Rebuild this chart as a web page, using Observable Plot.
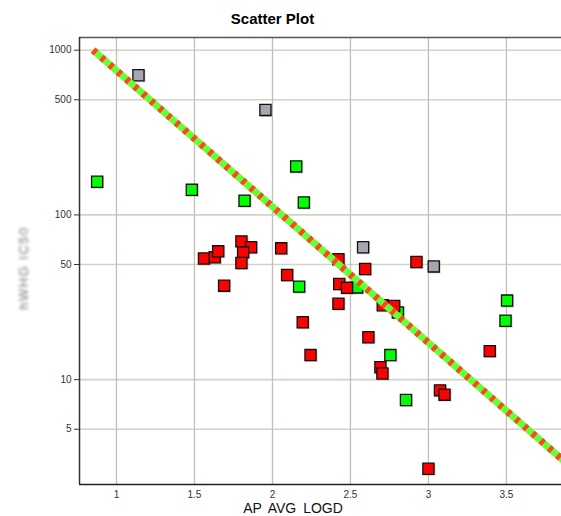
<!DOCTYPE html>
<html>
<head>
<meta charset="utf-8">
<script src="https://cdn.jsdelivr.net/npm/d3@7"></script>
<script src="https://cdn.jsdelivr.net/npm/@observablehq/plot@0.6"></script>
<style>
  html, body { margin: 0; padding: 0; background: #fff; }
  #wrap { position: relative; width: 561px; height: 516px; overflow: hidden; font-family: "Liberation Sans", Arial, sans-serif; }
  #wrap svg { position: absolute; left: 0; top: 0; }
  .title { position: absolute; left: 0; width: 545px; top: 10px; text-align: center; font-weight: bold; font-size: 15px; line-height: 18px; color: #000; }
  .xlabel { position: absolute; left: 193px; width: 200px; top: 500px; text-align: center; font-size: 14px; line-height: 16px; color: #111; word-spacing: 3px; }
  .ylabel { position: absolute; left: -26px; top: 260px; width: 100px; text-align: center; font-size: 13px; letter-spacing: 1.5px; line-height: 16px; color: #777; transform: rotate(-90deg); filter: blur(1.5px); }
</style>
</head>
<body>
<div id="wrap">
  <div class="title">Scatter Plot</div>
  <div class="xlabel">AP AVG LOGD</div>
  <div class="ylabel">hWHG IC50</div>
</div>
<script>
// Tick labels
const xTicks = [1, 1.5, 2, 2.5, 3, 3.5];
const yTicks = [5, 10, 50, 100, 500, 1000];

// Gray points
const grayX = [1.141, 1.955, 2.581, 3.034];
const grayY = [704, 434, 63.6, 48.7];

// Green points
const greenX = [0.876, 1.483, 1.821, 2.152, 2.201, 2.171, 2.543, 2.804, 2.756, 2.856, 3.504, 3.494];
const greenY = [159, 142, 122, 197, 119, 36.7, 36.3, 25.6, 14.1, 7.53, 30.2, 22.8];

// Red points
const redX = [1.561, 1.630, 1.652, 1.690, 1.801, 1.863, 1.812, 1.801, 2.056, 2.094, 2.194, 2.244,
              2.423, 2.428, 2.478, 2.423, 2.594, 2.615, 2.707, 2.780, 2.692, 2.705, 2.923, 3.074,
              3.103, 3.000, 3.393];
const redY = [54.4, 55.3, 60.1, 37.2, 69.1, 63.6, 59.3, 51.1, 62.7, 43.2, 22.3, 14.1,
              53.8, 38.1, 36.1, 28.9, 47.0, 18.1, 28.3, 28.0, 11.9, 10.9, 51.8, 8.61,
              8.11, 2.88, 14.9];

// Reference line
const lineX = [0.85, 4.0];
const lineY = [1000, 2.5];

const xDomain = [0.763, 3.853];
const yDomain = [2.31, 1194];

const points = [
  ...greenX.map((x, i) => ({x, y: greenY[i], c: "#00ff00"})),
  ...redX.map((x, i) => ({x, y: redY[i], c: "#ff0000"})),
  ...grayX.map((x, i) => ({x, y: grayY[i], c: "#a6a6ae"}))
];
const linePts = lineX.map((x, i) => ({x, y: lineY[i]}));

const chart = Plot.plot({
  width: 561,
  height: 516,
  marginLeft: 79,
  marginRight: 0,
  marginTop: 37,
  marginBottom: 32,
  style: {background: "transparent", fontSize: "10px", fontFamily: "'Liberation Sans', Arial, sans-serif", color: "#333"},
  x: {domain: xDomain, ticks: xTicks, tickFormat: d => String(d), tickSize: 0, tickPadding: 6, label: null},
  y: {type: "log", domain: yDomain, ticks: yTicks, tickFormat: () => "", tickSize: 5, tickPadding: 3, label: null},
  marks: [
    Plot.ruleY(yTicks, {stroke: "#d3d1c9", strokeWidth: 1.6}),
    Plot.ruleX(xTicks, {stroke: "#c2bfb6", strokeWidth: 1.3}),
    Plot.ruleY([yDomain[1]], {stroke: "#555", strokeWidth: 1.5}),
    Plot.ruleY([yDomain[0]], {stroke: "#222", strokeWidth: 1.5}),
    Plot.ruleX([xDomain[0]], {stroke: "#333", strokeWidth: 1.5}),
    Plot.text(yTicks, {x: xDomain[0], y: d => d, text: d => String(d), textAnchor: "end", dx: -8, fill: "#333", fontSize: 10}),
    Plot.dot(points, {x: "x", y: "y", symbol: "square", r: 7, fill: "#999", fillOpacity: 0.45, stroke: "none", dx: 0.8, dy: 0.8}),
    Plot.dot(points, {x: "x", y: "y", symbol: "square", r: 6.3, fill: "c", stroke: "#111", strokeWidth: 1.3}),
    Plot.line(linePts, {x: "x", y: "y", stroke: "#66ff33", strokeWidth: 7, strokeLinecap: "butt", clip: true}),
    Plot.line(linePts, {x: "x", y: "y", stroke: "#ff4422", strokeWidth: 7, strokeLinecap: "butt", strokeDasharray: "4,7", clip: true})
  ]
});
document.getElementById("wrap").prepend(chart);
</script>
</body>
</html>
